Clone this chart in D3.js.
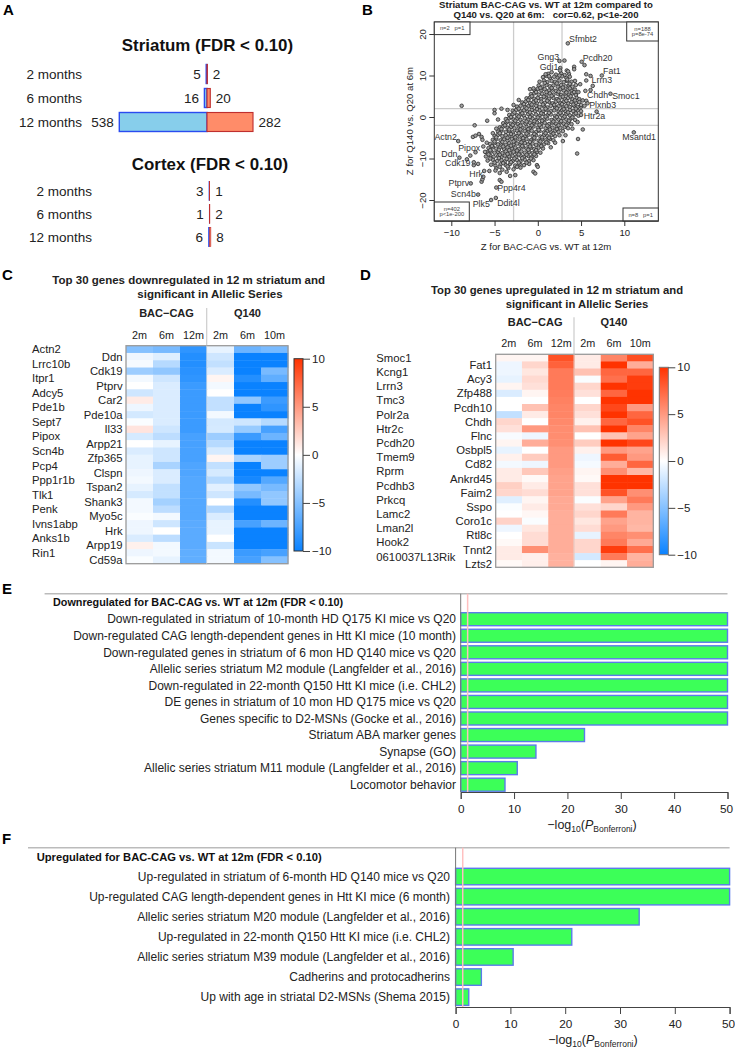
<!DOCTYPE html>
<html><head><meta charset="utf-8">
<script src="https://cdnjs.cloudflare.com/ajax/libs/d3/7.8.5/d3.min.js"></script>
<style>
html,body{margin:0;padding:0;background:#fff}
svg{display:block}
text{font-family:"Liberation Sans",Arial,sans-serif;fill:#222;white-space:pre}
</style></head><body><svg id="c" width="735" height="1050"></svg>
<script>
// ---------- DATA ----------
const timeLabels=["2 months","6 months","12 months"];
const striatumDown=[5,16,538], striatumUp=[2,20,282];
const cortexDown=[3,1,6], cortexUp=[1,2,8];

const geneNames=["Sfmbt2","Gng3","Gdi1","Pcdh20","Fat1","Lrrn3","Chdh","Smoc1","Plxnb3","Htr2a","Msantd1","Actn2","Pipox","Ddn","Cdk19","Hrk","Ptprv","Scn4b","Plk5","Ppp4r4","Ddit4l"];
const geneX=[3.47,2.5,2.57,5.07,7.4,6.1,5.5,8.4,5.75,5,11.1,-9.2,-7.2,-9.06,-7.4,-6.3,-7.75,-6.9,-5.4,-4.8,-4.85];
const geneY=[17.75,13.5,11.2,13.3,10,9.9,6.3,5.6,3.3,.5,-3.7,-5.8,-8.5,-9.8,-10.9,-14.4,-16,-18.7,-20,-17,-19.5];
const outlierPoints=[[3.08,13.6],[5.4,12.5],[5.6,10.3],[5.6,8.8],[6.1,6.5],[6.35,7.5],[5.2,-3],[4.65,-5.3],[4.55,-8.8],[2.9,-5.8],[6.8,1.3],[-8.8,2.7],[-7.3,-2],[-5.85,-.9],[-5,1.7],[-5,.9],[-4.2,2],[-3.5,1.7],[-4.6,-.6],[4.2,12.1],[4.2,11.5],[3.35,11.2],[2.6,11.8],[4.4,7.7],[4.9,7.9],[-7.5,-4.8],[-7.2,-4.5],[-6.8,-4.1],[-6.5,-4.8],[-6.4,-5.5],[-6.3,-7.1],[-8.2,-10.2],[-7.8,-9.3],[-7.4,-11.6],[-6.9,-11.3],[-6.5,-15.6],[-6.4,-15],[-4.4,-15.2],[-4.2,-15.6],[-3.6,-13.2],[-3.2,-14.2],[-2.6,-14],[-.5,-13.2],[-.3,-13.6],[-.1,-11.6],[0,-12],[-6.2,-13],[-5.6,-13],[-4.4,-13.5],[-4.9,-12.9],[5.2,4],[5.6,3.9],[5,2.9],[5.4,2.7],[4.6,-1.2],[4,-2.8],[-.9,6.7],[-.5,6.9],[-2.2,4.1],[-2.8,2.9],[4.7,6],[4.3,8.7],[3.5,11],[.9,10.3],[-5.9,-6.2],[-5.2,-3.9],[-4.8,-2.8],[-6.1,-8.4],[1.5,-7.3],[2,-6.2],[3.2,-4.4]];
const cloudPoints=[
[1.2,10.4],[1.6,10.8],[2.1,10.2],[2.7,10.5],[3.1,10.1],[3.6,10.4],
[.6,9.6],[1,9.9],[1.4,9.4],[1.9,9.7],[2.3,9.5],[2.8,9.8],[3.3,9.4],[3.7,9.7],
[.2,8.5],[.7,8.8],[1.1,8.4],[1.6,8.7],[2,8.5],[2.5,8.8],[3,8.4],[3.4,8.7],[3.9,8.5],
[.1,7.6],[.5,7.3],[1,7.7],[1.4,7.4],[1.8,7.6],[2.3,7.3],[2.7,7.7],[3.2,7.4],[3.6,7.6],[4,7.3],
[-.4,6.5],[0,6.8],[.4,6.4],[.8,6.7],[1.3,6.4],[1.7,6.6],[2.1,6.3],[2.6,6.7],[3,6.4],[3.5,6.6],[3.9,6.3],[4.3,6.6],
[-.8,5.5],[-.4,5.7],[.1,5.4],[.5,5.6],[1,5.3],[1.4,5.7],[1.8,5.4],[2.3,5.6],[2.7,5.3],[3.2,5.6],[3.6,5.4],[4,5.7],[4.4,5.3],
[-1.3,4.5],[-.9,4.7],[-.4,4.4],[0,4.6],[.4,4.3],[.9,4.7],[1.3,4.4],[1.8,4.6],[2.2,4.3],[2.6,4.7],[3.1,4.4],[3.5,4.6],[4,4.3],[4.5,4.6],[4.8,4.3],
[-1.8,3.5],[-1.4,3.7],[-.9,3.4],[-.5,3.6],[-.1,3.3],[.4,3.7],[.8,3.4],[1.3,3.6],[1.7,3.3],[2.1,3.7],[2.6,3.4],[3,3.6],[3.5,3.3],[3.9,3.6],[4.4,3.4],[4.8,3.6],
[-2.4,2.5],[-2,2.7],[-1.5,2.4],[-1.1,2.6],[-.7,2.3],[-.2,2.7],[.2,2.4],[.7,2.6],[1.1,2.3],[1.5,2.7],[2,2.4],[2.4,2.6],[2.9,2.3],[3.3,2.6],[3.7,2.4],[4.2,2.7],[4.6,2.4],[5,2.5],
[-2.9,1.5],[-2.5,1.7],[-2,1.4],[-1.6,1.6],[-1.2,1.3],[-.7,1.7],[-.3,1.4],[.2,1.6],[.6,1.3],[1,1.7],[1.5,1.4],[1.9,1.6],[2.4,1.3],[2.8,1.6],[3.2,1.4],[3.7,1.7],[4.1,1.4],[4.6,1.6],[5,1.4],
[-3.3,.5],[-2.9,.7],[-2.4,.4],[-2,.6],[-1.6,.3],[-1.1,.7],[-.7,.4],[-.2,.6],[.2,.3],[.6,.7],[1.1,.4],[1.5,.6],[2,.3],[2.4,.6],[2.8,.4],[3.3,.7],[3.7,.4],[4.2,.6],[4.7,.3],
[-3.7,-.5],[-3.3,-.3],[-2.8,-.6],[-2.4,-.4],[-2,-.7],[-1.5,-.3],[-1.1,-.6],[-.6,-.4],[-.2,-.7],[.2,-.3],[.7,-.6],[1.1,-.4],[1.6,-.7],[2,-.4],[2.4,-.6],[2.9,-.3],[3.3,-.6],[3.8,-.4],[4.3,-.7],
[-4,-1.5],[-3.6,-1.3],[-3.1,-1.6],[-2.7,-1.4],[-2.3,-1.7],[-1.8,-1.3],[-1.4,-1.6],[-.9,-1.4],[-.5,-1.7],[-.1,-1.3],[.4,-1.6],[.8,-1.4],[1.3,-1.7],[1.7,-1.4],[2.1,-1.6],[2.6,-1.3],[3,-1.6],[3.5,-1.4],[3.9,-1.7],
[-4.4,-2.5],[-4,-2.3],[-3.5,-2.6],[-3.1,-2.4],[-2.7,-2.7],[-2.2,-2.3],[-1.8,-2.6],[-1.3,-2.4],[-.9,-2.7],[-.5,-2.3],[0,-2.6],[.4,-2.4],[.9,-2.7],[1.3,-2.4],[1.7,-2.6],[2.2,-2.3],[2.6,-2.6],[3.1,-2.4],[3.5,-2.7],
[-4.6,-3.5],[-4.2,-3.3],[-3.7,-3.6],[-3.3,-3.4],[-2.9,-3.7],[-2.4,-3.3],[-2,-3.6],[-1.5,-3.4],[-1.1,-3.7],[-.7,-3.3],[-.2,-3.6],[.2,-3.4],[.7,-3.7],[1.1,-3.4],[1.5,-3.6],[2,-3.3],[2.4,-3.6],[2.9,-3.4],
[-5,-4.5],[-4.6,-4.3],[-4.1,-4.6],[-3.7,-4.4],[-3.3,-4.7],[-2.8,-4.3],[-2.4,-4.6],[-1.9,-4.4],[-1.5,-4.7],[-1.1,-4.3],[-.6,-4.6],[-.2,-4.4],[.3,-4.7],[.7,-4.4],[1.1,-4.6],[1.6,-4.3],[2,-4.6],[2.5,-4.4],
[-5.2,-5.5],[-4.8,-5.3],[-4.3,-5.6],[-3.9,-5.4],[-3.5,-5.7],[-3,-5.3],[-2.6,-5.6],[-2.1,-5.4],[-1.7,-5.7],[-1.3,-5.3],[-.8,-5.6],[-.4,-5.4],[.1,-5.7],[.5,-5.4],[.9,-5.6],[1.4,-5.3],[1.8,-5.6],
[-5.5,-6.5],[-5,-6.3],[-4.6,-6.6],[-4.2,-6.4],[-3.7,-6.7],[-3.3,-6.3],[-2.8,-6.6],[-2.4,-6.4],[-2,-6.7],[-1.5,-6.3],[-1.1,-6.6],[-.6,-6.4],[-.2,-6.7],[.2,-6.4],[.7,-6.6],[1.2,-6.3],
[-5.7,-7.5],[-5.2,-7.3],[-4.8,-7.6],[-4.4,-7.4],[-3.9,-7.7],[-3.5,-7.3],[-3,-7.6],[-2.6,-7.4],[-2.2,-7.7],[-1.7,-7.3],[-1.3,-7.6],[-.8,-7.4],[-.4,-7.7],[.1,-7.4],[.6,-7.6],
[-5.9,-8.5],[-5.4,-8.3],[-5,-8.6],[-4.6,-8.4],[-4.1,-8.7],[-3.7,-8.3],[-3.2,-8.6],[-2.8,-8.4],[-2.4,-8.7],[-1.9,-8.3],[-1.5,-8.6],[-1,-8.4],[-.6,-8.7],[-.1,-8.4],[.3,-8.6],
[-6,-9.5],[-5.5,-9.3],[-5.1,-9.6],[-4.6,-9.4],[-4.2,-9.7],[-3.8,-9.3],[-3.3,-9.6],[-2.9,-9.4],[-2.5,-9.7],[-2,-9.3],[-1.6,-9.6],[-1.1,-9.4],[-.7,-9.7],[-.2,-9.4],
[-5.8,-10.5],[-5.2,-10.3],[-4.7,-10.6],[-4.2,-10.4],[-3.8,-10.7],[-3.3,-10.3],[-2.9,-10.6],[-2.4,-10.4],[-2,-10.7],[-1.5,-10.3],[-1,-10.6],[-.5,-10.4],
[-5.4,-11.5],[-4.9,-11.7],[-4.3,-11.4],[-3.7,-11.6],[-3.2,-11.3],[-2.6,-11.7],[-2.1,-11.4],[-1.6,-11.6],[-1,-11.3],
[-4.8,-12.4],[-4.1,-12.7],[-3.4,-12.3],[-2.8,-12.6],[-2,-12.2]
];
const cloudFillPoints=[
[1.3,9.8],[2.5,10],[3.4,9],[.8,8.2],[2.2,8.1],[3.7,8],[.3,7],[1.6,7],[2.9,7.1],[3.7,6.9],[-.2,6],[1,6],[2.4,6.1],[3.3,5.9],[4.2,6],[-.7,5],[.7,4.9],[1.6,5.1],[2.9,4.9],[3.8,5],[-1.1,4.1],[-.2,4],[1.1,3.9],[2.4,4],[3.3,3.9],[4.3,4],[-1.6,3.1],[-.7,3],[.6,3],[1.9,2.9],[2.8,3.1],[4.1,3],[-2.2,2],[-1.3,2.1],[-.1,1.9],[.9,2],[2.2,2.1],[3,1.9],[4.4,2],[-2.7,1.1],[-1.8,.9],[-.9,1.1],[.4,.9],[1.3,1],[2.6,1],[3.5,1.1],[4.4,.9],[-3.1,0],[-2.2,.1],[-.9,0],[0,-.1],[.9,.1],[2.2,0],[3.1,.1],[4,-.1],[-3.5,-1],[-2.6,-.9],[-1.3,-1.1],[-.4,-1],[.5,-.9],[1.8,-1.1],[2.7,-1],[3.6,-.9],[-3.8,-2],[-2.9,-1.9],[-2,-2.1],[-.7,-2],[.2,-1.9],[1.1,-2.1],[2.4,-2],[3.3,-1.9],[-4.2,-2.9],[-3.3,-3],[-2,-3],[-1.1,-2.9],[.1,-3.1],[1.4,-3],[2.2,-2.9],[-4.4,-3.9],[-3.1,-4.1],[-2.2,-3.9],[-1.3,-4],[-.4,-4.1],[.9,-3.9],[1.8,-4],[-4.8,-4.9],[-3.5,-5],[-2.6,-4.9],[-1.7,-5.1],[-.4,-5],[.5,-4.9],[1.3,-5],[-5,-5.9],[-4.1,-6],[-2.8,-5.9],[-1.9,-6.1],[-.9,-6],[.3,-5.9],[1,-6.1],[-5.3,-7],[-4,-7.1],[-3.1,-6.9],[-1.8,-7],[-.9,-7.1],[.4,-7],[-5.5,-8],[-4.5,-7.9],[-3.3,-8],[-2.4,-8.1],[-1.1,-7.9],[-.2,-8],[-5.7,-9],[-4.4,-9.1],[-3.5,-8.9],[-2.2,-9],[-1.3,-9.1],[-.4,-9],[-5.5,-10],[-4.5,-9.9],[-3.6,-10.1],[-2.7,-10],[-1.8,-9.9],[-.8,-10],[-5,-11],[-4,-11.1],[-3.1,-10.9],[-2.2,-11],[-1.3,-11],[-4.4,-12],[-3.5,-11.9],[-2.4,-12]
];
const zLinesX=[-2.8,2.8], zLinesY=[-2,2];
const cornerTexts=[["n=2   p=1"],["n=188","p=8e-74"],["n=402","p<1e-200"],["n=8   p=1"]];

const heatCols=["2m","6m","12m","2m","6m","10m"];
const downGenes=["Actn2","Ddn","Lrrc10b","Cdk19","Itpr1","Ptprv","Adcy5","Car2","Pde1b","Pde10a","Sept7","Il33","Pipox","Arpp21","Scn4b","Zfp365","Pcp4","Clspn","Ppp1r1b","Tspan2","Tlk1","Shank3","Penk","Myo5c","Ivns1abp","Hrk","Anks1b","Arpp19","Rin1","Cd59a"];
const downValues=[
[-5,-5.5,-8.5,-1,-6,-5.5],[-.7,-1.3,-9,-2,-10,-10],[-.4,-3,-9,-2.5,-10,-10],[-4,-4.5,-8.7,-1.5,-10,-5.5],
[-.5,-2,-8.5,.5,-9,-6.5],[0,-1.5,-8,-.5,-10,-10],[-2,-1.5,-8,0,-10,-10],[1,-1.5,-8,-2.5,-4.5,-8],
[-.7,-1.5,-8,-2.5,-10,-8.5],[-1.8,-1.5,-8,-.5,-10,-10],[-.2,-1.5,-8,-1.8,-2,-3],[1.3,-2,-8,-1.7,-4.2,-7.5],
[-1.7,-2.7,-7.5,-4,-8,-6],[0,-1,-7.5,-3,-10,-10],[-1.5,-2,-7.5,-1.7,-10,-10],[-1,-2,-7.5,.5,-3.5,-4],
[-1,-3.5,-7.2,-2.5,-10,-4],[-.7,-1.5,-7.2,-1.7,-10,-10],[-.5,-1.5,-7,-3,-9.5,-7],[-1,-2.5,-7,-1.2,-4.5,-5.5],
[-1.7,-2.5,-7,-2,-5.5,-4.5],[-.5,-3.7,-7,0,-9,-4.5],[-.5,-2.7,-7,-3.2,-10,-10],[-.2,-.5,-7,-1.5,-10,-10],
[-.7,-2,-6.7,-1,-7.5,-6],[-.7,0,-6.7,-1,-10,-10],[-1.5,-2.7,-6.7,0,-10,-10],[.7,-.5,-6.7,-2.2,-10,-10],
[-.7,-.5,-6.5,-.5,-8,-7.5],[-.2,-1,-6.5,-.5,-7.5,-5]];
const upGenes=["Smoc1","Fat1","Kcng1","Acy3","Lrrn3","Zfp488","Tmc3","Pcdh10","Polr2a","Chdh","Htr2c","Flnc","Pcdh20","Osbpl5","Tmem9","Cd82","Rprm","Ankrd45","Pcdhb3","Faim2","Prkcq","Sspo","Lamc2","Coro1c","Lman2l","Rtl8c","Hook2","Tnnt2","0610037L13Rik","Lzts2"];
const upValues=[
[.5,.5,8.5,1,6,8.7],[-.7,2,7.7,1,10,4],[-.7,1.2,6.5,3,7.5,7.5],[-1,1.8,6.5,-.2,7,9.5],
[.5,1.5,6.5,2,10,9.5],[-1.5,.5,6.4,1.5,7.5,10],[0,0,6.2,0,10,10],[0,3,6,2,9,5],
[-2.5,1,6,1.5,10,7.5],[2,0,5.8,.7,7.5,8.5],[1.5,5,5.6,3,10,6],[-.3,-.7,5.6,0,3,4.5],
[.5,4,5.5,2.5,10,9],[-1,0,5,.7,5,4.5],[.7,2.5,5,-.7,8,5],[-.5,-.7,5,-.4,4,7.5],
[1,2.7,4.7,.5,5.5,3.5],[1,.3,4.5,.3,10,10],[2.3,1,4.5,1.5,10,10],[2,1.7,4.5,1.5,8.5,5.5],
[-1.3,.5,4.2,-.2,4.5,6.5],[-.2,1,4.2,1.5,2,5],[0,.4,4,2,6.5,3.7],[2.2,-.2,4,1.2,4.5,3.7],
[-.7,1.2,4,1.7,5,3.5],[0,1.7,4,-1,6,5.5],[.3,1.7,4,2,6.5,4.2],[1,5.5,4,2,9.5,7],
[1,.8,3.8,-1.8,6.5,3.7],[.3,.8,3.8,0,.5,4]];

const enrichDownTerms=["Down-regulated in striatum of 10-month HD Q175 KI mice vs Q20","Down-regulated CAG length-dependent genes in Htt KI mice (10 month)","Down-regulated genes in striatum of 6 mon HD Q140 mice vs Q20","Allelic series striatum M2 module (Langfelder et al., 2016)","Down-regulated in 22-month Q150 Htt KI mice (i.e. CHL2)","DE genes in striatum of 10 mon HD Q175 mice vs Q20","Genes specific to D2-MSNs (Gocke et al., 2016)","Striatum ABA marker genes","Synapse (GO)","Allelic series striatum M11 module (Langfelder et al., 2016)","Locomotor behavior"];
const enrichDownValues=[50,50,50,50,50,50,50,23.2,14.1,10.6,8.3];
const enrichUpTerms=["Up-regulated in striatum of 6-month HD Q140 mice vs Q20","Up-regulated CAG length-dependent genes in Htt KI mice (6 month)","Allelic series striatum M20 module (Langfelder et al., 2016)","Up-regulated in 22-month Q150 Htt KI mice (i.e. CHL2)","Allelic series striatum M39 module (Langfelder et al., 2016)","Cadherins and protocadherins","Up with age in striatal D2-MSNs (Shema 2015)"];
const enrichUpValues=[50,50,33.5,21.2,10.5,4.7,2.4];
const bonferroniLine=1.3;

// ---------- DRAW ----------
const svg=d3.select("#c");
function txt(g,x,y,s,o={}){
  const t=g.append("text").attr("x",x).attr("y",y).attr("dy",".35em").text(s)
    .attr("font-size",o.size||12).attr("text-anchor",o.anchor||"start");
  if(o.bold)t.attr("font-weight","bold");
  return t;
}
[["A",3,10],["B",362,10],["C",2,275],["D",360,275],["E",2,589],["F",2,839]].forEach(d=>txt(svg,d[1],d[2],d[0],{size:15,bold:true}).style("fill","#000"));

// ---- Panel A
function panelA(title,titleX,titleY,zero,rowYs,labelRight,down,up,sw){
  const g=svg.append("g");
  txt(g,titleX,titleY,title,{size:16.9,bold:true,anchor:"middle"}).style("fill","#111");
  const x=d3.scaleLinear().domain([-538,282]).range([zero-87.7,zero+46]);
  timeLabels.forEach((l,i)=>{
    const y=rowYs[i];
    txt(g,labelRight,y,l,{size:13.5,anchor:"end"});
    g.append("rect").attr("x",x(-down[i])).attr("y",y-9.5).attr("width",x(0)-x(-down[i])).attr("height",19)
      .attr("fill","#87CEEB").attr("stroke","#2A4BF0").attr("stroke-width",sw);
    g.append("rect").attr("x",x(0)).attr("y",y-9.5).attr("width",x(up[i])-x(0)).attr("height",19)
      .attr("fill","#FF8C69").attr("stroke","#BF2F2F").attr("stroke-width",sw*.8);
    txt(g,x(-down[i])-5.5,y,down[i],{size:13.5,anchor:"end"});
    txt(g,x(up[i])+5.5,y,up[i],{size:13.5});
  });
}
panelA("Striatum (FDR < 0.10)",207.5,45,207,[74,98,122],82,striatumDown,striatumUp,1.4);
panelA("Cortex (FDR < 0.10)",210,164,209.5,[191,214,237],92,cortexDown,cortexUp,.8);

// ---- Panel B
(function(){
  const g=svg.append("g");
  const L=434.3,R=658.3,T=22,B=221;
  const x=d3.scaleLinear().domain([-10,10]).range([451.3,624.3]);
  const y=d3.scaleLinear().domain([-20,20]).range([200,34]);
  txt(g,546,5,"Striatum BAC-CAG vs. WT at 12m compared to",{size:9.6,bold:true,anchor:"middle"});
  txt(g,546,15,"Q140 vs. Q20 at 6m:   cor=0.62, p<1e-200",{size:9.6,bold:true,anchor:"middle"});
  zLinesX.forEach(v=>g.append("line").attr("x1",x(v)).attr("x2",x(v)).attr("y1",T).attr("y2",B).attr("stroke","#ccc").attr("stroke-width",1.3));
  zLinesY.forEach(v=>g.append("line").attr("x1",L).attr("x2",R).attr("y1",y(v)).attr("y2",y(v)).attr("stroke","#ccc").attr("stroke-width",1.3));
  const genePts=geneX.map((v,i)=>[v,geneY[i]]);
  g.append("g").selectAll("circle").data(cloudPoints.concat(cloudFillPoints,outlierPoints,genePts)).join("circle")
    .attr("cx",d=>x(d[0])).attr("cy",d=>y(d[1])).attr("r",1.8)
    .attr("fill","#a0a0a0").attr("stroke","#333").attr("stroke-width",.85);
  g.append("rect").attr("x",L).attr("y",T).attr("width",R-L).attr("height",B-T).attr("fill","none").attr("stroke","#333").attr("stroke-width",1);
  const offs=[[1.3,-4.3,"start"],[-.3,-3.7,"end"],[-1.7,-4,"end"],[1,-4.3,"start"],[1.3,-4.7,"start"],[1,4.3,"start"],[1.7,4.3,"start"],[1.7,1.7,"start"],[1.7,1.3,"start"],[2.7,.7,"start"],[5.3,4.3,"middle"],[-1.3,-4.3,"end"],[4.7,-4.7,"end"],[-2,-3.7,"end"],[-3.3,1,"end"],[-.3,-3.3,"end"],[-1.7,0,"end"],[-2.3,-.7,"end"],[-1.3,4,"end"],[1,0,"start"],[1.3,4.7,"start"]];
  geneNames.forEach((n,i)=>txt(g,x(geneX[i])+offs[i][0],y(geneY[i])+offs[i][1],n,{size:8.8,anchor:offs[i][2]}).style("fill","#333"));
  // corner boxes
  const boxes=[[434.3,470,22,34.6],[626.7,658.3,22,41],[434.3,469.3,202,221],[623,658.3,208,221]];
  boxes.forEach((b,i)=>{
    g.append("rect").attr("x",b[0]).attr("y",b[2]).attr("width",b[1]-b[0]).attr("height",b[3]-b[2]).attr("fill","#fff").attr("stroke","#333").attr("stroke-width",1);
    const lines=cornerTexts[i],cx=(b[0]+b[1])/2,cy=(b[2]+b[3])/2;
    lines.forEach((s,k)=>txt(g,cx,cy+(k-(lines.length-1)/2)*5.6,s,{size:5.8,anchor:"middle"}).style("fill","#444"));
  });
  // axes
  const ax=g.append("g").attr("transform",`translate(0,${B})`).call(d3.axisBottom(x).tickValues([-10,-5,0,5,10]).tickSize(5).tickPadding(3).tickFormat(d3.format("d")));
  ax.select(".domain").attr("d",`M${L},0H${R}`);
  const ay=g.append("g").attr("transform",`translate(${L},0)`).call(d3.axisLeft(y).tickValues([-20,-10,0,10,20]).tickSize(5).tickFormat(d3.format("d")));
  ay.select(".domain").remove();
  ax.selectAll("text").attr("font-size",9.6).attr("font-family",null);
  ay.selectAll("g.tick text").attr("font-size",9.6).attr("font-family",null).attr("text-anchor","middle").attr("transform","rotate(-90)").attr("x",0).attr("y",-8).attr("dy",0);
  g.selectAll(".tick line,.domain").attr("stroke","#333");
  txt(g,546,247,"Z for BAC-CAG vs. WT at 12m",{size:9.6,anchor:"middle"});
  txt(g,0,0,"Z for Q140 vs. Q20 at 6m",{size:9.6,anchor:"middle"}).attr("transform","translate(410,121) rotate(-90)");
})();

// ---- Heatmaps
const heatColor=d3.scaleLinear().domain([-10,0,10]).range(["#0A82FF","#ffffff","#FF3300"]);
function heatmap(o){
  const g=svg.append("g");
  txt(g,o.t1x,o.t1y,o.t1,{size:o.titleSize,bold:true,anchor:"middle"});
  txt(g,o.t2x,o.t1y+13.8,o.t2,{size:o.titleSize,bold:true,anchor:"middle"});
  const x=d3.scaleBand().domain(d3.range(6)).range([o.L,o.R]);
  const y=d3.scaleBand().domain(d3.range(30)).range([o.T,o.B]);
  txt(g,x(1)+x.bandwidth()/2,o.headY,"BAC\u2212CAG",{size:11,bold:true,anchor:"middle"});
  txt(g,x(4)+x.bandwidth()/2,o.headY,"Q140",{size:11,bold:true,anchor:"middle"});
  g.append("line").attr("x1",o.mid).attr("x2",o.mid).attr("y1",o.headY-5).attr("y2",o.T).attr("stroke","#ccc").attr("stroke-width",1.2);
  heatCols.forEach((c,i)=>txt(g,x(i)+x.bandwidth()/2,o.colY,c,{size:10.8,anchor:"middle"}));
  o.values.forEach((row,r)=>row.forEach((v,c)=>g.append("rect").attr("x",x(c)).attr("y",y(r)).attr("width",x.bandwidth()+.4).attr("height",y.bandwidth()+.4).attr("fill",heatColor(v))));
  g.append("rect").attr("x",o.L).attr("y",o.T).attr("width",o.R-o.L).attr("height",o.B-o.T).attr("fill","none").attr("stroke","#9a9a9a").attr("stroke-width",1.3);
  g.append("line").attr("x1",o.mid).attr("x2",o.mid).attr("y1",o.T).attr("y2",o.B).attr("stroke","#ddd").attr("stroke-width",.8);
  o.genes.forEach((n,i)=>{
    const yy=y(i)+y.bandwidth()/2;
    if(i%2==0)txt(g,o.leftX,yy,n,{size:11.3});
    else txt(g,o.rightX,yy,n,{size:11.3,anchor:"end"});
  });
  // colour bar
  const gid="grad"+o.id;
  const lg=svg.append("defs").append("linearGradient").attr("id",gid).attr("x1",0).attr("x2",0).attr("y1",1).attr("y2",0);
  [-10,-5,0,5,10].forEach(v=>lg.append("stop").attr("offset",(v+10)/20).attr("stop-color",heatColor(v)));
  g.append("rect").attr("x",o.cbL).attr("y",o.cbT).attr("width",9).attr("height",o.cbB-o.cbT).attr("fill",`url(#${gid})`).attr("stroke",o.cbStroke).attr("stroke-width",1);
  const s=d3.scaleLinear().domain([-10,10]).range([o.cbB,o.cbT]);
  const a=g.append("g").attr("transform",`translate(${o.cbL+9},0)`).call(d3.axisRight(s).tickValues([-10,-5,0,5,10]).tickSize(7).tickPadding(2).tickFormat(d=>d<0?"\u2212"+(-d):d));
  a.select(".domain").remove();
  a.selectAll("text").attr("font-size",11.5).attr("font-family",null);
  a.selectAll("line").attr("stroke","#444");
}
heatmap({id:"C",titleSize:11.5,t1:"Top 30 genes downregulated in 12 m striatum and",t2:"significant in Allelic Series",t1x:188.7,t2x:210,t1y:280,headY:313,colY:335,L:126,R:288,T:345.7,B:563.7,mid:206.7,leftX:32,rightX:122.6,genes:downGenes,values:downValues,cbL:294,cbT:358.7,cbB:551,cbStroke:"#333"});
heatmap({id:"D",titleSize:11.3,t1:"Top 30 genes upregulated in 12 m striatum and",t2:"significant in Allelic Series",t1x:557,t2x:577,t1y:290,headY:322.3,colY:343.7,L:495.7,R:653.3,T:354.3,B:567.3,mid:574,leftX:376.3,rightX:492,genes:upGenes,values:upValues,cbL:659.3,cbT:367.3,cbB:554.7,cbStroke:"#777"});

// ---- Enrichment bars
function enrich(o){
  const g=svg.append("g");
  const x=d3.scaleLinear().domain([0,50]).range([o.x0,o.x50]);
  g.append("line").attr("x1",o.ruleL).attr("x2",o.x50).attr("y1",o.top).attr("y2",o.top).attr("stroke","#bbb").attr("stroke-width",1.5);
  txt(g,o.headX,o.headY,o.head,{size:o.headSize,bold:true}).style("fill","#111");
  const y=i=>o.first+i*o.step;
  o.terms.forEach((t,i)=>{
    g.append("rect").attr("x",x(0)).attr("y",y(i)).attr("width",x(o.values[i])-x(0)).attr("height",o.barH)
      .attr("fill","#3CFF58").attr("stroke","#5B7BEA").attr("stroke-width",1.4);
    txt(g,o.labelR,y(i)+o.barH/2,t,{size:o.size,anchor:"end"});
  });
  g.append("line").attr("x1",x(0)).attr("x2",x(0)).attr("y1",o.top).attr("y2",o.axisY).attr("stroke","#777").attr("stroke-width",1);
  g.append("line").attr("x1",x(bonferroniLine)).attr("x2",x(bonferroniLine)).attr("y1",o.top).attr("y2",o.axisY).attr("stroke","#FFC0C0").attr("stroke-width",1.5);
  const a=g.append("g").attr("transform",`translate(0,${o.axisY})`).call(d3.axisBottom(x).tickValues([0,10,20,30,40,50]).tickSize(7).tickPadding(6).tickFormat(d3.format("d")));
  a.selectAll("text").attr("font-size",11.8).attr("font-family",null);
  a.selectAll("g.tick text").filter(d=>d==50).attr("dx",-1.5);
  a.selectAll("line,path").attr("stroke","#444");
  const t=g.append("text").attr("x",o.xlabX).attr("y",o.xlabY).attr("text-anchor","middle").attr("font-size",12.5);
  t.append("tspan").text("\u2212log");
  t.append("tspan").text("10").attr("font-size",8.5).attr("dy",2.5);
  t.append("tspan").text("(").attr("dy",-2.5);
  t.append("tspan").text("P").attr("font-style","italic");
  t.append("tspan").text("Bonferroni").attr("font-size",8.5).attr("dy",2.5);
  t.append("tspan").text(")").attr("dy",-2.5);
}
enrich({head:"Downregulated for BAC-CAG vs. WT at 12m (FDR < 0.10)",headX:53,headY:602.7,headSize:10.8,ruleL:44.6,top:593.7,x0:460.7,x50:727.5,first:612.7,step:16.55,barH:13,axisY:792,labelR:456,size:12,terms:enrichDownTerms,values:enrichDownValues,xlabX:592,xlabY:829});
enrich({head:"Upregulated for BAC-CAG vs. WT at 12m (FDR < 0.10)",headX:36.7,headY:857,headSize:11.2,ruleL:28,top:847.7,x0:455.6,x50:729.6,first:868.3,step:20.1,barH:16.5,axisY:1007,labelR:450,size:12,terms:enrichUpTerms,values:enrichUpValues,xlabX:593,xlabY:1044});
</script></body></html>
